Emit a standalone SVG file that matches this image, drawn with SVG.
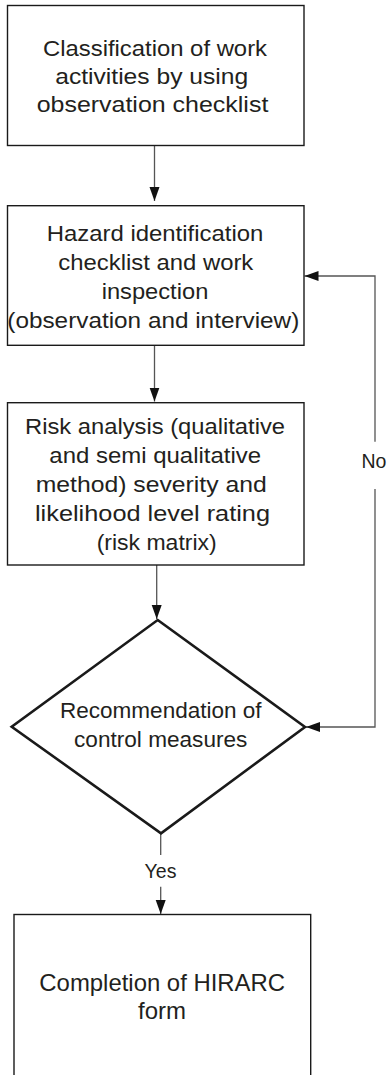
<svg xmlns="http://www.w3.org/2000/svg" width="389" height="1075" viewBox="0 0 389 1075">
<style>
.box{fill:#fff;stroke:#1a1a1a;stroke-width:1.4}
.dia{fill:#fff;stroke:#1a1a1a;stroke-width:2.6;stroke-linejoin:miter}
.t{font-family:"Liberation Sans",Arial,Helvetica,sans-serif;fill:#231f20;text-anchor:middle}
.bt{font-size:21.5px}
.lbl{font-size:19.5px}
.con{fill:none;stroke:#555;stroke-width:1.3}
</style>
<defs>
<marker id="ah" markerUnits="userSpaceOnUse" markerWidth="15" markerHeight="11" refX="14" refY="5" orient="auto">
<path d="M0,0 L14,5 L0,10 z" fill="#111"/>
</marker>
</defs>
<g id="connectors">
<line class="con" x1="154.5" y1="145.5" x2="154.5" y2="201" marker-end="url(#ah)"/>
<line class="con" x1="154.5" y1="345.5" x2="154.5" y2="401.5" marker-end="url(#ah)"/>
<line class="con" x1="156.7" y1="565" x2="156.7" y2="619" marker-end="url(#ah)"/>
<polyline class="con" points="375,441.7 375,276 304.5,276" marker-end="url(#ah)"/>
<polyline class="con" points="375,489 375,727 306,727" marker-end="url(#ah)"/>
<text class="t lbl" x="374" y="468.3">No</text>
<line class="con" x1="160.7" y1="834" x2="160.7" y2="855"/>
<line class="con" x1="160.7" y1="886.7" x2="160.7" y2="914" marker-end="url(#ah)"/>
<text class="t lbl" x="160.5" y="878.3">Yes</text>
</g>
<g id="n1">
<rect class="box" x="7.5" y="5.5" width="296.5" height="140"/>
<text class="t bt" x="155" y="56" textLength="224" lengthAdjust="spacingAndGlyphs">Classification of work</text>
<text class="t bt" x="151.7" y="83.5" textLength="193" lengthAdjust="spacingAndGlyphs">activities by using</text>
<text class="t bt" x="152.5" y="111.5" textLength="231.7" lengthAdjust="spacingAndGlyphs">observation checklist</text>
</g>
<g id="n2">
<rect class="box" x="7.5" y="205.7" width="296.5" height="139.6"/>
<text class="t bt" x="155" y="240.7" textLength="216.7" lengthAdjust="spacingAndGlyphs">Hazard identification</text>
<text class="t bt" x="155.8" y="270" textLength="195" lengthAdjust="spacingAndGlyphs">checklist and work</text>
<text class="t bt" x="155" y="298.7" textLength="106.7" lengthAdjust="spacingAndGlyphs">inspection</text>
<text class="t bt" x="153.3" y="327.7" textLength="292" lengthAdjust="spacingAndGlyphs">(observation and interview)</text>
</g>
<g id="n3">
<rect class="box" x="7.5" y="402.7" width="296.5" height="162.3"/>
<text class="t bt" x="155" y="434.3" textLength="260" lengthAdjust="spacingAndGlyphs">Risk analysis (qualitative</text>
<text class="t bt" x="155.2" y="463.3" textLength="211.7" lengthAdjust="spacingAndGlyphs">and semi qualitative</text>
<text class="t bt" x="151.2" y="492.3" textLength="231" lengthAdjust="spacingAndGlyphs">method) severity and</text>
<text class="t bt" x="152.5" y="521" textLength="235" lengthAdjust="spacingAndGlyphs">likelihood level rating</text>
<text class="t bt" x="156.7" y="550" textLength="120" lengthAdjust="spacingAndGlyphs">(risk matrix)</text>
</g>
<g id="n4">
<polygon class="dia" points="157.7,620 305,727 161,833.3 11.7,726.7"/>
<text class="t bt" x="160.8" y="718.3" textLength="201.7" lengthAdjust="spacingAndGlyphs">Recommendation of</text>
<text class="t bt" x="160.7" y="746.7" textLength="173.3" lengthAdjust="spacingAndGlyphs">control measures</text>
</g>
<g id="n5">
<rect class="box" x="14" y="914.5" width="296.7" height="170"/>
<text class="t" style="font-size:24px" x="162.2" y="990.7" textLength="245.7" lengthAdjust="spacingAndGlyphs">Completion of HIRARC</text>
<text class="t" style="font-size:24px" x="162" y="1019">form</text>
</g>
</svg>
